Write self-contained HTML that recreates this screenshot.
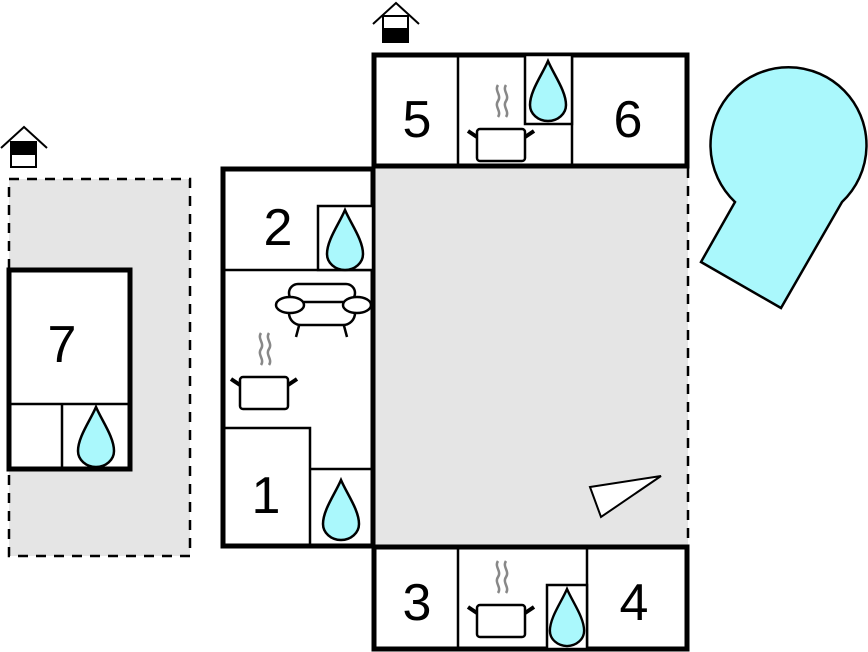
<!DOCTYPE html>
<html><head><style>html,body{margin:0;padding:0;background:#fff;}svg{display:block}</style></head>
<body>
<svg width="868" height="652" viewBox="0 0 868 652" xmlns="http://www.w3.org/2000/svg" font-family="Liberation Sans, sans-serif">
<defs>
<g id="drop"><path d="M0,0 C-6,14 -18,30 -18,44 A18,16 0 0 0 18,44 C18,30 6,14 0,0 Z" fill="#aaf8fc" stroke="#000" stroke-width="2.5"/></g>
<g id="pot">
<rect x="-24" y="0" width="48" height="32" rx="3" fill="#fff" stroke="#000" stroke-width="2.5"/>
<line x1="-24" y1="8" x2="-33" y2="2" stroke="#000" stroke-width="4"/>
<line x1="24" y1="8" x2="33" y2="2" stroke="#000" stroke-width="4"/>
<path d="M-3,-44 c-4,6 4,10 0,16 c-4,6 4,10 0,16" fill="none" stroke="#888" stroke-width="2.5"/>
<path d="M5,-44 c-4,6 4,10 0,16 c-4,6 4,10 0,16" fill="none" stroke="#888" stroke-width="2.5"/>
</g>
</defs>
<!-- dashed left area -->
<rect x="9" y="179" width="181" height="377" fill="#e5e5e5" stroke="#000" stroke-width="2.5" stroke-dasharray="10,8"/>
<!-- gray courtyard -->
<rect x="373" y="168" width="315" height="379" fill="#e5e5e5"/>
<line x1="688" y1="168" x2="688" y2="547" stroke="#000" stroke-width="2.5" stroke-dasharray="10,8"/>
<!-- room 7 -->
<rect x="9" y="270" width="121" height="199" fill="#fff" stroke="#000" stroke-width="5"/>
<line x1="9" y1="404" x2="130" y2="404" stroke="#000" stroke-width="2.5"/>
<line x1="62" y1="404" x2="62" y2="469" stroke="#000" stroke-width="2.5"/>
<use href="#drop" transform="translate(96,407)"/>
<text x="62" y="362" font-size="52" text-anchor="middle">7</text>
<!-- left block -->
<rect x="223" y="169" width="150" height="377" fill="#fff" stroke="#000" stroke-width="5"/>
<line x1="223" y1="270" x2="373" y2="270" stroke="#000" stroke-width="2.5"/>
<rect x="318" y="206" width="55" height="64" fill="#fff" stroke="#000" stroke-width="2.5"/>
<use href="#drop" transform="translate(345,210)"/>
<text x="278" y="245" font-size="52" text-anchor="middle">2</text>
<path d="M223,428 H310 V546" fill="none" stroke="#000" stroke-width="2.5"/>
<line x1="310" y1="469" x2="373" y2="469" stroke="#000" stroke-width="2.5"/>
<use href="#drop" transform="translate(341,480)"/>
<text x="266" y="513" font-size="52" text-anchor="middle">1</text>
<!-- sofa -->
<g stroke="#000" stroke-width="2.5" fill="#fff">
<line x1="300" y1="322" x2="296" y2="337"/><line x1="343" y1="322" x2="347" y2="337"/>
<rect x="289" y="300" width="66" height="25" rx="12"/>
<rect x="289" y="284" width="66" height="18" rx="9"/>
<ellipse cx="290" cy="305" rx="14" ry="8"/>
<ellipse cx="357" cy="305" rx="14" ry="8"/>
</g>
<use href="#pot" transform="translate(264,377)"/>
<!-- top block -->
<rect x="374" y="55" width="313" height="111" fill="#fff" stroke="#000" stroke-width="5"/>
<line x1="458" y1="55" x2="458" y2="166" stroke="#000" stroke-width="2.5"/>
<line x1="572" y1="55" x2="572" y2="166" stroke="#000" stroke-width="2.5"/>
<rect x="525" y="55" width="47" height="69" fill="#fff" stroke="#000" stroke-width="2.5"/>
<use href="#drop" transform="translate(548,61)"/>
<use href="#pot" transform="translate(501,129)"/>
<text x="417" y="137" font-size="52" text-anchor="middle">5</text>
<text x="628" y="137" font-size="52" text-anchor="middle">6</text>
<!-- bottom block -->
<rect x="374" y="547" width="313" height="102" fill="#fff" stroke="#000" stroke-width="5"/>
<line x1="458" y1="547" x2="458" y2="649" stroke="#000" stroke-width="2.5"/>
<line x1="587" y1="547" x2="587" y2="649" stroke="#000" stroke-width="2.5"/>
<rect x="547" y="585" width="40" height="64" fill="#fff" stroke="#000" stroke-width="2.5"/>
<use href="#drop" transform="translate(567,589) scale(0.95)"/>
<use href="#pot" transform="translate(501,605)"/>
<text x="417" y="620" font-size="52" text-anchor="middle">3</text>
<text x="634" y="620" font-size="52" text-anchor="middle">4</text>
<!-- triangle -->
<polygon points="590,487 661,476 601,517" fill="#fff" stroke="#000" stroke-width="2"/>
<!-- pool -->
<path d="M735,202 A78,78 0 1 1 842,202 L781,308 L701,262 Z" fill="#aaf8fc" stroke="#000" stroke-width="2.5"/>
<!-- house icons -->
<g stroke="#000" stroke-width="2" fill="none">
<polyline points="373,24 396,3 419,24"/>
<rect x="383" y="16" width="25" height="26" fill="#fff"/>
<rect x="383" y="29" width="25" height="13" fill="#000"/>
<polyline points="1,148 24,127 47,148"/>
<rect x="11" y="142" width="25" height="25" fill="#fff"/>
<rect x="11" y="142" width="25" height="12" fill="#000"/>
</g>
</svg>
</body></html>
